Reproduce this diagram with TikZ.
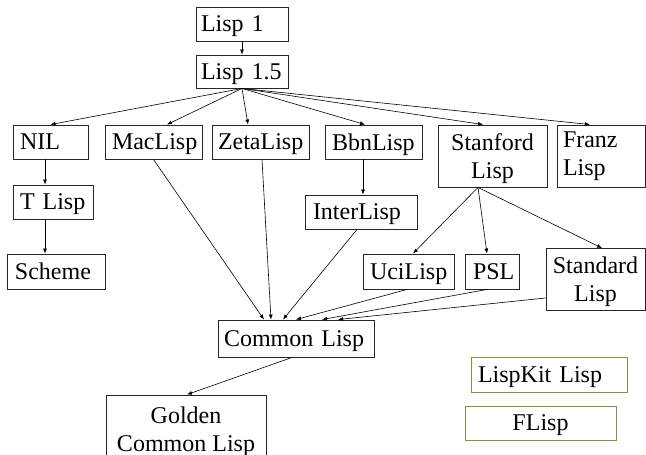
\documentclass[tikz,border=0pt]{standalone}
\usepackage{fontspec}
\setmainfont{Liberation Serif}
\usetikzlibrary{arrows.meta}
\definecolor{kitgreen}{RGB}{119,147,60}
\begin{document}
\begin{tikzpicture}[x=1pt,y=-1pt,
  every node/.style={font=\fontsize{24}{28}\selectfont},
  lb/.style={draw=black!85,line width=0.9pt,inner xsep=7pt,inner ysep=0pt,minimum height=34pt,align=left,text depth=0pt},
  cb/.style={draw=black!85,line width=0.9pt,inner sep=0pt,minimum height=34pt,align=center,text depth=0pt},
  ar/.style={-{Latex[length=5pt,width=4pt]},line width=0.6pt}]
\useasboundingbox (0,0) rectangle (646,455);
% top of the tree
\node[lb,text width=82pt,inner xsep=5pt] (lisp1) at (242,24) {Lisp 1};
\node[lb,text width=82pt,inner xsep=5pt,minimum height=33pt] (lisp15) at (242,71.5) {Lisp 1.5};
% first row of dialects
\node[lb,text width=61pt] (nil) at (50.5,142) {NIL};
\node[lb,text width=83pt] (maclisp) at (153.5,142) {MacLisp};
\node[lb,text width=85pt,inner xsep=6pt] (zetalisp) at (260.5,142) {ZetaLisp};
\node[lb,text width=83pt] (bbnlisp) at (373.5,142) {BbnLisp};
\node[cb,minimum width=109pt,minimum height=62pt] (stanford) at (492.5,156) {Stanford\\Lisp};
\node[lb,text width=76pt,minimum height=62pt,inner xsep=6pt,text depth=] (franz) at (601,156) {Franz\\Lisp};
% lower rows
\node[lb,text width=66pt] (tlisp) at (53,202) {T Lisp};
\node[lb,text width=82pt,minimum height=35pt,inner xsep=8pt] (scheme) at (56,271.5) {Scheme};
\node[lb,text width=96pt,inner xsep=8pt] (interlisp) at (361,212) {InterLisp};
\node[lb,text width=77pt,minimum height=35pt] (ucilisp) at (408.5,271.5) {UciLisp};
\node[lb,text width=38pt,minimum height=35pt,inner xsep=8pt] (psl) at (492,271.5) {PSL};
\node[cb,minimum width=99pt,minimum height=62pt] (standard) at (595.5,279.5) {Standard\\Lisp};
\node[lb,text width=144pt,minimum height=37pt,inner xsep=6pt] (common) at (296,338.5) {Common Lisp};
\node[cb,minimum width=160pt,minimum height=68pt] (golden) at (186,429) {Golden\\Common Lisp};
% unconnected ones
\node[lb,draw=kitgreen,text width=142pt,minimum height=35pt] (lispkit) at (549,374.5) {LispKit Lisp};
\node[cb,draw=kitgreen,minimum width=151pt] (flisp) at (540.5,423) {FLisp};
% connectors
\draw[ar] (lisp1) -- (lisp15);
\draw[ar] (lisp15.south) -- (nil.north);
\draw[ar] (lisp15.south) -- ([xshift=13.5pt]maclisp.north);
\draw[ar] (lisp15.south) -- ([xshift=-12.5pt]zetalisp.north);
\draw[ar] (lisp15.south) -- ([xshift=-8.5pt]bbnlisp.north);
\draw[ar] (lisp15.south) -- ([xshift=-9.5pt]stanford.north);
\draw[ar] (lisp15.south) -- ([xshift=-11pt]franz.north);
\draw[ar] ([xshift=-5.5pt]nil.south) -- ([xshift=-8pt]tlisp.north);
\draw[ar] ([xshift=-8pt]tlisp.south) -- ([xshift=-11pt]scheme.north);
\draw[ar] ([xshift=-10.5pt]bbnlisp.south) -- ([xshift=2pt]interlisp.north);
\draw[ar] ([xshift=-14.5pt]stanford.south) -- ([xshift=4.5pt]ucilisp.north);
\draw[ar] ([xshift=-14.5pt]stanford.south) -- ([xshift=-5pt]psl.north);
\draw[ar] ([xshift=-14.5pt]stanford.south) -- ([xshift=6.5pt]standard.north);
\draw[ar] (maclisp.south) -- ([xshift=-32pt]common.north);
\draw[ar] ([xshift=1.5pt]zetalisp.south) -- ([xshift=-25pt]common.north);
\draw[ar] ([xshift=-4pt]interlisp.south) -- ([xshift=-13pt]common.north);
\draw[ar] ([xshift=-1.5pt]ucilisp.south) -- (common.north);
\draw[ar] ([xshift=-5pt]psl.south) -- ([xshift=26pt]common.north);
\draw[ar] ([yshift=-18.5pt]standard.west) -- ([xshift=42pt]common.north);
\draw[ar] ([xshift=-4pt]common.south) -- ([xshift=1pt]golden.north);
\end{tikzpicture}
\end{document}
